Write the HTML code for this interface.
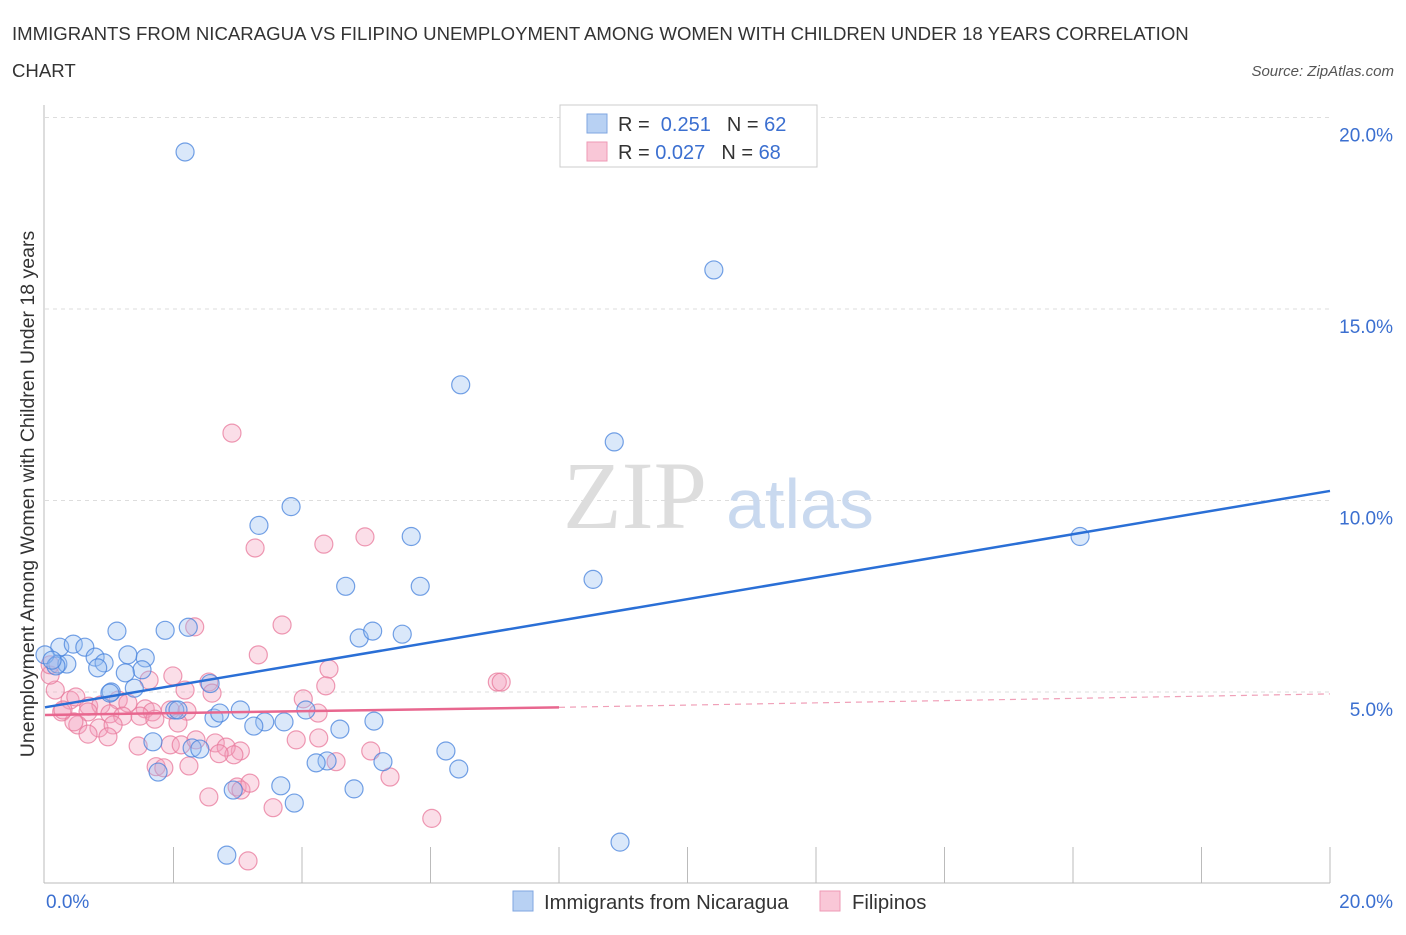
<!DOCTYPE html>
<html><head><meta charset="utf-8"><style>
body{margin:0;background:#fff;font-family:"Liberation Sans",sans-serif;}
</style></head><body>
<svg width="1406" height="930" viewBox="0 0 1406 930" xmlns="http://www.w3.org/2000/svg">
<text x="12" y="40" font-size="18.6" fill="#333">IMMIGRANTS FROM NICARAGUA VS FILIPINO UNEMPLOYMENT AMONG WOMEN WITH CHILDREN UNDER 18 YEARS CORRELATION</text>
<text x="12" y="77" font-size="18.6" fill="#333">CHART</text>
<text x="1394" y="76" font-size="15" fill="#555" font-style="italic" text-anchor="end">Source: ZipAtlas.com</text>
<g id="grid"></g>
<text x="635" y="528" font-size="96" fill="#ddd" font-family="Liberation Serif,serif" text-anchor="middle">ZIP</text>
<text x="800" y="528" font-size="70" fill="#c9d9ef" text-anchor="middle">atlas</text>
<g id="pts"></g>
<g id="lines"></g>
<text transform="translate(34,494) rotate(-90)" font-size="19.5" fill="#333" text-anchor="middle">Unemployment Among Women with Children Under 18 years</text>
<g>
<rect x="560" y="105" width="257" height="62" fill="#fff" stroke="#ccc"/>
<rect x="587" y="114" width="20" height="19" fill="#b8d1f3" stroke="#7fa6e0"/>
<rect x="587" y="142" width="20" height="19" fill="#f9c7d7" stroke="#ee9ab4"/>
<text x="618" y="131" font-size="20" fill="#333">R = <tspan fill="#3b6fd0">&#160;0.251</tspan><tspan dx="16">N = </tspan><tspan fill="#3b6fd0">62</tspan></text>
<text x="618" y="159" font-size="20" fill="#333">R = <tspan fill="#3b6fd0">0.027</tspan><tspan dx="16">N = </tspan><tspan fill="#3b6fd0">68</tspan></text>
</g>
<g>
<rect x="513" y="891" width="20" height="20" fill="#b8d1f3" stroke="#7fa6e0"/>
<text x="544" y="909" font-size="20.3" fill="#333">Immigrants from Nicaragua</text>
<rect x="820" y="891" width="20" height="20" fill="#f9c7d7" stroke="#ee9ab4"/>
<text x="852" y="909" font-size="20.3" fill="#333">Filipinos</text>
</g>
</svg>
<script>
const yTicks=[5,10,15,20];
const yTickLabels=["5.0%","10.0%","15.0%","20.0%"];
const xTickLabels=["0.0%","20.0%"];
const blueX=[2.18,10.41,6.47,8.86,3.83,3.33,5.70,16.11,8.53,4.68,5.84,1.12,1.87,2.23,4.89,5.10,5.56,0.23,0.44,0.62,0.20,0.78,0.0,0.34,1.29,1.56,0.92,0.17,1.51,1.25,0.82,1.03,1.39,2.57,1.01,2.02,2.07,3.04,2.63,2.72,4.06,3.42,3.25,3.72,2.29,1.68,2.41,4.59,5.12,4.39,4.22,5.26,6.24,6.44,1.76,3.67,2.93,3.88,4.81,8.95,2.83,0.11];
const blueY=[19.1,16.02,13.02,11.53,9.84,9.35,9.06,9.06,7.94,7.76,7.76,6.59,6.61,6.69,6.41,6.59,6.51,6.17,6.25,6.17,5.73,5.91,5.97,5.73,5.97,5.89,5.76,5.68,5.58,5.50,5.63,5.00,5.10,5.22,4.97,4.53,4.53,4.53,4.32,4.45,4.53,4.22,4.11,4.22,3.54,3.70,3.51,4.03,4.24,3.20,3.15,3.18,3.46,2.99,2.91,2.55,2.44,2.10,2.47,1.08,0.74,5.83];
const pinkX=[2.91,3.27,4.34,4.98,3.69,2.33,3.32,4.42,1.99,1.62,2.55,2.18,2.60,4.37,4.02,7.04,7.10,0.16,0.08,0.39,0.48,0.68,0.87,1.14,1.29,1.56,1.67,1.95,2.21,0.26,0.67,1.01,1.21,0.51,0.84,1.48,1.71,1.06,0.45,0.28,2.07,0.67,0.98,1.45,1.95,2.12,2.35,2.65,3.04,2.82,4.26,3.91,2.94,2.71,4.53,5.07,1.73,1.85,2.24,5.37,2.99,3.05,3.19,2.55,3.55,6.02,3.16,4.25,0.08];
const pinkY=[11.76,8.76,8.86,9.05,6.75,6.70,5.97,5.60,5.42,5.31,5.26,5.05,4.97,5.16,4.82,5.26,5.26,5.05,5.44,4.79,4.87,4.63,4.66,4.79,4.71,4.56,4.48,4.53,4.50,4.48,4.48,4.43,4.37,4.14,4.06,4.37,4.29,4.14,4.22,4.53,4.19,3.90,3.83,3.59,3.62,3.62,3.75,3.67,3.46,3.56,3.80,3.75,3.36,3.39,3.18,3.46,3.05,3.02,3.07,2.78,2.52,2.44,2.62,2.26,1.98,1.70,0.59,4.45,5.71];
const blueTrend=[4.6,10.25];
const pinkTrend=[4.4,4.6,4.95];
const NS="http://www.w3.org/2000/svg";
const X=v=>45+v*64.25, Y=v=>883.5-v*38.3;
function mk(t,a,p){const e=document.createElementNS(NS,t);for(const k in a)e.setAttribute(k,a[k]);p.appendChild(e);return e;}
const grid=document.getElementById('grid');
mk('line',{x1:44,y1:105,x2:44,y2:883,stroke:'#bbb'},grid);
mk('line',{x1:44,y1:883,x2:1330,y2:883,stroke:'#bbb'},grid);
yTicks.forEach((t,i)=>{
 const l=mk('line',{x1:45,x2:1330,y1:Y(t),y2:Y(t),stroke:'#ddd','stroke-dasharray':'4,4'},grid);
 
 
 const tx=mk('text',{x:1393,y:Y(t)+24,'font-size':19,fill:'#3b6fd0','text-anchor':'end'},grid);
 tx.textContent=yTickLabels[i];
 
 
});
for(let i=1;i<=10;i++){const xx=45+i*128.5;const l=mk('line',{x1:xx,x2:xx,y1:847,y2:883,stroke:'#bbb'},grid);
 
 }
[[0,46,'start'],[20,1393,'end']].forEach((d,i)=>{const tx=mk('text',{x:d[1],y:908,'font-size':19,fill:'#3b6fd0','text-anchor':d[2]},grid);tx.textContent=xTickLabels[i];
 
 });
const pts=document.getElementById('pts');
pinkX.forEach((x,i)=>{const c=mk('circle',{cx:X(x),cy:Y(pinkY[i]),r:9,fill:'rgba(244,160,188,0.35)',stroke:'rgba(232,120,155,0.75)','stroke-width':1.2},pts);
 
 });
blueX.forEach((x,i)=>{const c=mk('circle',{cx:X(x),cy:Y(blueY[i]),r:9,fill:'rgba(150,190,240,0.35)',stroke:'rgba(70,130,220,0.75)','stroke-width':1.2},pts);
 
 });
const lines=document.getElementById('lines');
const bl=mk('line',{x1:X(0),y1:Y(blueTrend[0]),x2:X(20),y2:Y(blueTrend[1]),stroke:'#2a6fd6','stroke-width':2.5},lines);


const pl=mk('line',{x1:X(0),y1:Y(pinkTrend[0]),x2:X(8),y2:Y(pinkTrend[1]),stroke:'#e8678f','stroke-width':2.5},lines);


const pd=mk('line',{x1:X(8),y1:Y(pinkTrend[1]),x2:X(20),y2:Y(pinkTrend[2]),stroke:'#f0a0b8','stroke-width':1.2,'stroke-dasharray':'6,5'},lines);


</script>
</body></html>
